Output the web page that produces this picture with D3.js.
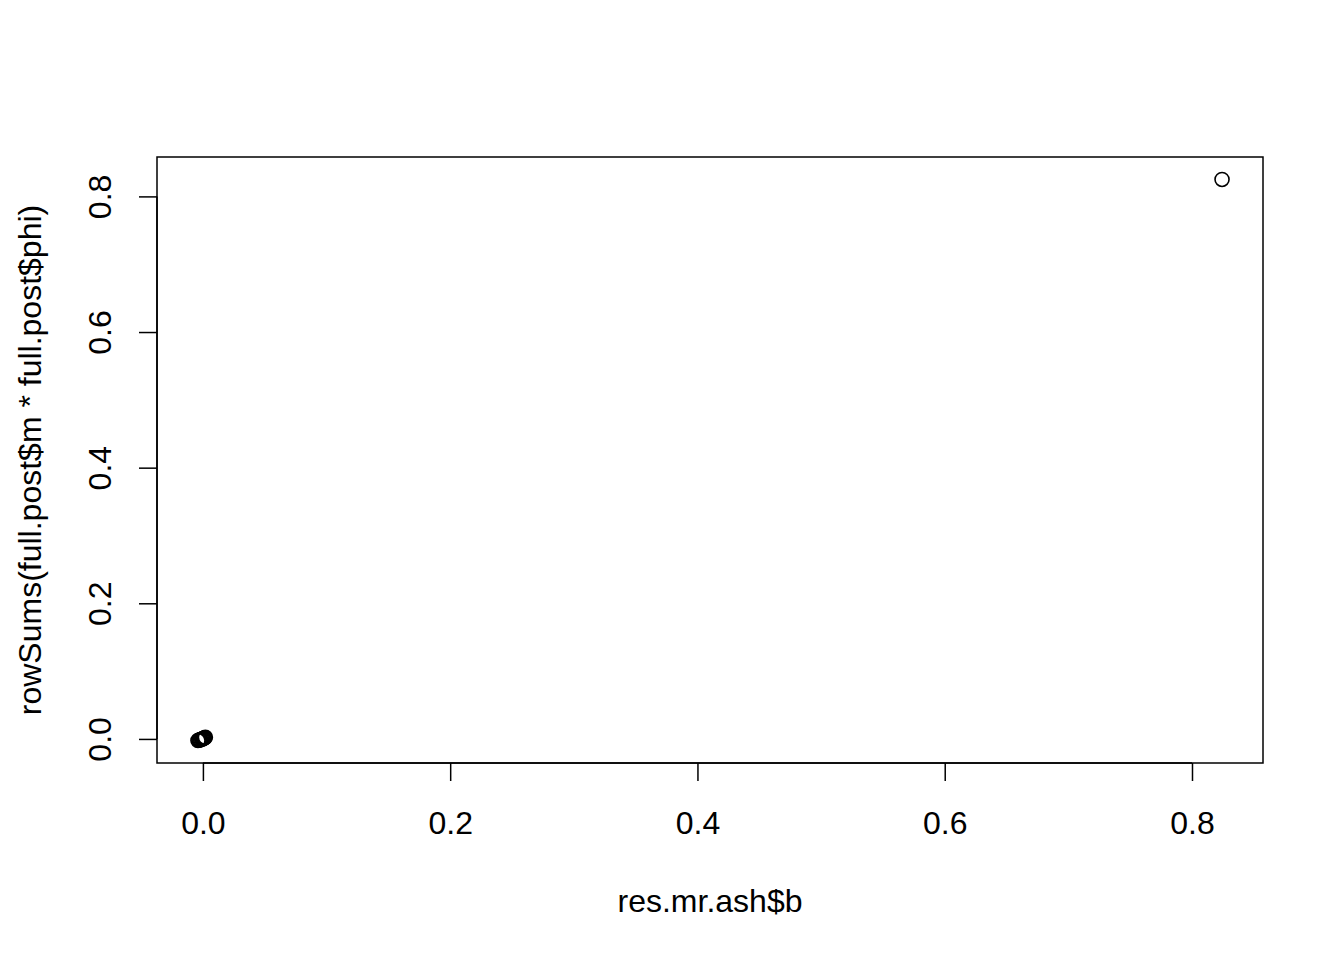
<!DOCTYPE html>
<html>
<head>
<meta charset="utf-8">
<script src="https://cdn.jsdelivr.net/npm/d3@7"></script>
<style>
  body { margin: 0; background: #fff; }
  svg { display: block; }
</style>
</head>
<body>
<script>
// values
var xVals = [-0.0040, -0.0032, -0.0025, -0.0018, -0.0010, -0.0004, 0.0002, 0.0008, 0.0014, 0.0020, 0.8243];
var yVals = [-0.0024, -0.0019, -0.0014, -0.0009, -0.0004, 0.0001, 0.0006, 0.0011, 0.0017, 0.0024, 0.8250];
var xTicks = [0.0, 0.2, 0.4, 0.6, 0.8];
var yTicks = [0.0, 0.2, 0.4, 0.6, 0.8];
var xLabel = "res.mr.ash$b";
var yLabel = "rowSums(full.post$m * full.post$phi)";

var W = 1344, H = 960;
var box = { left: 157, right: 1263, top: 157, bottom: 763 };
var fs = 32;

function pad(ext) {
    var d = (ext[1] - ext[0]) * 0.04;
    return [ext[0] - d, ext[1] + d];
}

var x = d3.scaleLinear().domain(pad(d3.extent(xVals))).range([box.left, box.right]);
var y = d3.scaleLinear().domain(pad(d3.extent(yVals))).range([box.bottom, box.top]);

var svg = d3.select("body").append("svg")
    .attr("width", W)
    .attr("height", H)
    .style("font-family", "'Liberation Sans', Arial, sans-serif");

svg.append("rect")
    .attr("x", box.left)
    .attr("y", box.top)
    .attr("width", box.right - box.left)
    .attr("height", box.bottom - box.top)
    .attr("fill", "none")
    .attr("stroke", "#000")
    .attr("stroke-width", 1.5);

var xAxis = d3.axisBottom(x).tickValues(xTicks).tickFormat(d3.format(".1f")).tickSize(18);
var gx = svg.append("g").attr("transform", "translate(0," + box.bottom + ")").call(xAxis);
gx.select(".domain").attr("d", "M" + x(xTicks[0]) + ",0H" + x(xTicks[xTicks.length - 1]));

var yAxis = d3.axisLeft(y).tickValues(yTicks).tickFormat(d3.format(".1f")).tickSize(18);
var gy = svg.append("g").attr("transform", "translate(" + box.left + ",0)").call(yAxis);
gy.select(".domain").attr("d", "M0," + y(yTicks[0]) + "V" + y(yTicks[yTicks.length - 1]));

[gx, gy].forEach(function (g) {
    g.selectAll(".domain, .tick line").attr("stroke", "#000").attr("stroke-width", 1.5);
    g.selectAll("text").attr("fill", "#000").style("font-size", fs + "px");
});

// x tick labels: baseline at y = 834
gx.selectAll(".tick text")
    .attr("dy", 0)
    .attr("y", 834 - box.bottom);

// y tick labels rotated, baseline at x = 111
gy.selectAll(".tick text")
    .attr("text-anchor", "middle")
    .attr("dy", 0)
    .attr("transform", "rotate(-90)")
    .attr("x", 0)
    .attr("y", 111 - box.left);

svg.append("text")
    .attr("x", (box.left + box.right) / 2)
    .attr("y", 912)
    .attr("text-anchor", "middle")
    .style("font-size", fs + "px")
    .text(xLabel);

svg.append("text")
    .attr("transform", "translate(41," + ((box.top + box.bottom) / 2) + ") rotate(-90)")
    .attr("text-anchor", "middle")
    .style("font-size", fs + "px")
    .text(yLabel);

svg.append("g").selectAll("circle")
    .data(xVals.map(function (v, i) { return [v, yVals[i]]; }))
    .join("circle")
    .attr("cx", function (d) { return x(d[0]); })
    .attr("cy", function (d) { return y(d[1]); })
    .attr("r", 7)
    .attr("fill", "none")
    .attr("stroke", "#000")
    .attr("stroke-width", 1.6);
</script>
</body>
</html>
